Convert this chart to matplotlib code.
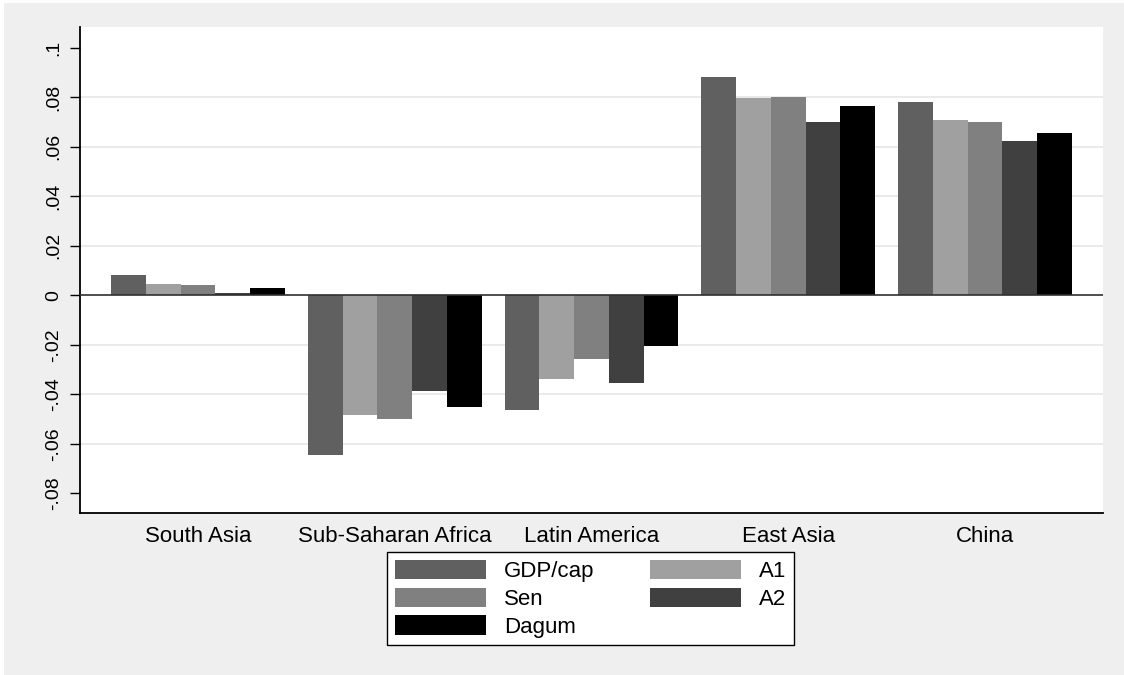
import matplotlib
matplotlib.use('Agg')
import matplotlib.pyplot as plt
from matplotlib.patches import Rectangle
import numpy as np

plt.rcParams['font.family'] = ['Liberation Sans', 'DejaVu Sans']

regions = ['South Asia', 'Sub-Saharan Africa', 'Latin America', 'East Asia', 'China']
series = ['GDP/cap', 'A1', 'Sen', 'A2', 'Dagum']
gdp_cap = [0.0081, -0.0644, -0.0463, 0.0881, 0.0780]
a1 = [0.0044, -0.0482, -0.0337, 0.0797, 0.0708]
sen = [0.0042, -0.0501, -0.0258, 0.0801, 0.0699]
a2 = [0.0009, -0.0387, -0.0354, 0.0699, 0.0622]
dagum = [0.0030, -0.0451, -0.0205, 0.0766, 0.0655]
colors = ['#606060', '#a0a0a0', '#808080', '#404040', '#000000']
yticks = [-0.08, -0.06, -0.04, -0.02, 0, 0.02, 0.04, 0.06, 0.08, 0.1]
ytick_labels = ['-.08', '-.06', '-.04', '-.02', '0', '.02', '.04', '.06', '.08', '.1']

fig = plt.figure(figsize=(11.24, 6.75), dpi=100)
fig.patch.set_facecolor('white')
# light gray graph region (stata style)
fig.patches.append(Rectangle((4 / 1124, 0), 1, 1 - 3 / 675, transform=fig.transFigure,
                             facecolor='#efefef', edgecolor='none', zorder=-5))

ax = fig.add_axes([80 / 1124, 1 - 513 / 675, 1023 / 1124, 486 / 675])
ax.set_facecolor('white')

x = np.arange(len(regions))
w = 0.1765
handles = []
for j, (name, vals) in enumerate(zip(series, [gdp_cap, a1, sen, a2, dagum])):
    b = ax.bar(x + (j - 2) * w, vals, w, color=colors[j], label=name, zorder=3)
    handles.append(b)

ax.set_xlim(-0.6, 4.6)
ax.set_ylim(-0.088, 0.1084)

for t in yticks:
    if t not in (0, 0.1, -0.08):
        ax.axhline(t, color='#e6e6e6', lw=1.2, zorder=1)
ax.axhline(0, color='#303030', lw=1.2, zorder=4)

ax.set_yticks(yticks)
ax.set_yticklabels(ytick_labels, rotation=90, va='center')
ax.tick_params(axis='y', length=7, width=1, pad=6, labelsize=14)
ax.set_xticks(x)
ax.set_xticklabels(regions)
ax.tick_params(axis='x', length=0, pad=9, labelsize=16)

for s in ['top', 'right']:
    ax.spines[s].set_visible(False)
for s in ['left', 'bottom']:
    ax.spines[s].set_linewidth(1.3)
    ax.spines[s].set_color('black')

order = [0, 2, 4, 1, 3]
leg = fig.legend([handles[i] for i in order], [series[i] for i in order],
                 ncol=2, loc='upper left', bbox_to_anchor=(387 / 1124, 1 - 552 / 675),
                 fontsize=16, fancybox=False, frameon=True, edgecolor='black',
                 facecolor='white', framealpha=1,
                 handlelength=4.1, handleheight=0.95, handletextpad=0.8,
                 labelspacing=0.25, columnspacing=2.5, borderpad=0.35, borderaxespad=0)
leg.get_frame().set_linewidth(1.0)

fig.savefig('out.png', dpi=100, facecolor=fig.get_facecolor())
